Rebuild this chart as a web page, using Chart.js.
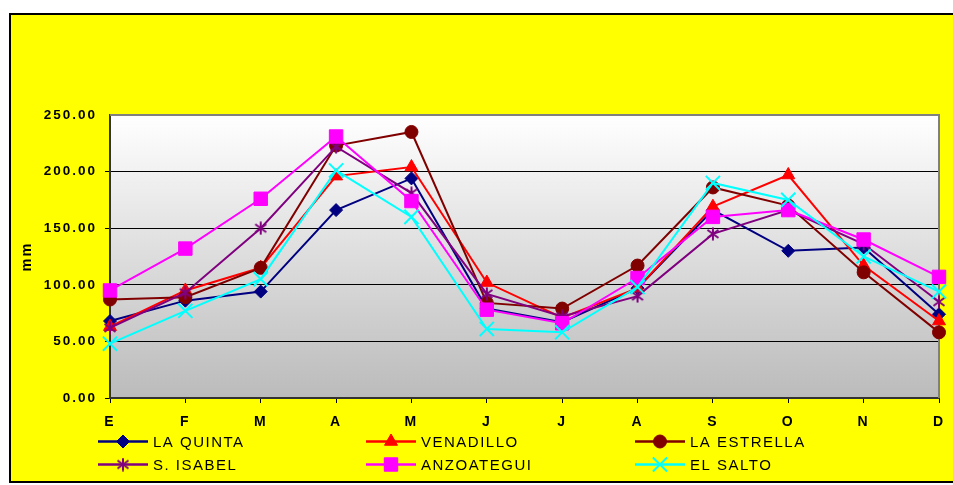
<!DOCTYPE html>
<html>
<head>
<meta charset="utf-8">
<script src="https://cdn.jsdelivr.net/npm/chart.js@4/dist/chart.umd.min.js"></script>
<style>
  html, body { margin: 0; padding: 0; background: #fff; }
  canvas { display: block; }
</style>
</head>
<body>
<canvas id="c" width="953" height="485"></canvas>
<script>
// Monthly rainfall (mm) per station
const months = ['E', 'F', 'M', 'A', 'M', 'J', 'J', 'A', 'S', 'O', 'N', 'D'];
const yTickValues = [0, 50, 100, 150, 200, 250];

const laQuinta   = [68, 86, 94, 166, 194, 79, 67, 97, 166, 130, 133, 74];
const venadillo  = [63, 95, 115, 196, 204, 102, 71, 97, 169, 197, 117, 68];
const laEstrella = [87, 89, 115, 223, 235, 84, 79, 117, 186, 170, 111, 58];
const sIsabel    = [62, 93, 150, 222, 181, 92, 72, 90, 145, 166, 136, 85];
const anzoategui = [95, 132, 176, 231, 174, 78, 66, 106, 160, 166, 140, 107];
const elSalto    = [48, 77, 105, 201, 160, 61, 58, 98, 190, 175, 125, 94];

const FONT = '"Liberation Sans", Arial, sans-serif';

// Six-spoke asterisk marker
function asteriskMarker(color) {
  const c = document.createElement('canvas');
  c.width = 14; c.height = 14;
  const g = c.getContext('2d');
  g.strokeStyle = color;
  g.lineWidth = 2;
  g.beginPath();
  g.moveTo(7, 0.5); g.lineTo(7, 13.5);
  g.moveTo(1.5, 3); g.lineTo(12.5, 11);
  g.moveTo(1.5, 11); g.lineTo(12.5, 3);
  g.stroke();
  return c;
}

function series(label, data, color, style, radius, order, extra) {
  return Object.assign({
    label, data, order,
    borderColor: color,
    backgroundColor: color,
    borderWidth: 2,
    tension: 0,
    clip: false,
    pointStyle: style,
    pointRadius: radius,
    pointHoverRadius: radius,
    pointBackgroundColor: color,
    pointBorderColor: color,
    pointBorderWidth: 1
  }, extra || {});
}

const datasets = [
  series('LA QUINTA', laQuinta, '#000080', 'rectRot', 6.5, 5),
  series('VENADILLO', venadillo, '#FF0000', 'triangle', 7.5, 4),
  series('LA ESTRELLA', laEstrella, '#800000', 'circle', 6.5, 3),
  series('S. ISABEL', sIsabel, '#800080', asteriskMarker('#800080'), 7, 2),
  series('ANZOATEGUI', anzoategui, '#FF00FF', 'rect', 9.5, 1),
  series('EL SALTO', elSalto, '#00FFFF', 'crossRot', 10, 0, { pointBorderWidth: 2 })
];

// Yellow frame, gradient plot area and grey plot border
const framePlugin = {
  id: 'frame',
  beforeDraw(chart) {
    const ctx = chart.ctx;
    const a = chart.chartArea;
    ctx.save();
    ctx.fillStyle = '#ffffff';
    ctx.fillRect(0, 0, chart.width, chart.height);
    ctx.fillStyle = '#FFFF00';
    ctx.fillRect(10, 14, chart.width, 468);
    ctx.strokeStyle = '#000';
    ctx.lineWidth = 2;
    ctx.strokeRect(10, 14, chart.width + 10, 468);
    const grad = ctx.createLinearGradient(0, a.top, 0, a.bottom);
    grad.addColorStop(0, '#ffffff');
    grad.addColorStop(1, '#bbbbbb');
    ctx.fillStyle = grad;
    ctx.fillRect(a.left, a.top, a.right - a.left, a.bottom - a.top);
    ctx.restore();
    ctx.letterSpacing = '2px';
  },
  beforeDatasetsDraw(chart) {
    const ctx = chart.ctx;
    const a = chart.chartArea;
    ctx.save();
    ctx.strokeStyle = '#808080';
    ctx.lineWidth = 2;
    ctx.beginPath();
    ctx.moveTo(a.left, a.top);
    ctx.lineTo(a.right, a.top);
    ctx.lineTo(a.right, a.bottom);
    ctx.stroke();
    ctx.restore();
  }
};

// Series key below the axis: line + marker + name, three columns
const keyPlugin = {
  id: 'seriesKey',
  afterDraw(chart) {
    const ctx = chart.ctx;
    const cols = [98, 366, 635];
    const rows = [441.5, 464.5];
    chart.data.datasets.forEach((ds, i) => {
      const x0 = cols[i % 3];
      const y = rows[Math.floor(i / 3)];
      ctx.save();
      ctx.letterSpacing = '0px';
      ctx.strokeStyle = ds.borderColor;
      ctx.lineWidth = 2.5;
      ctx.beginPath();
      ctx.moveTo(x0, y);
      ctx.lineTo(x0 + 50, y);
      ctx.stroke();
      ctx.fillStyle = ds.pointBackgroundColor;
      ctx.strokeStyle = ds.pointBorderColor;
      ctx.lineWidth = ds.pointBorderWidth;
      Chart.helpers.drawPoint(ctx, {
        pointStyle: ds.pointStyle,
        radius: ds.pointRadius,
        rotation: 0,
        borderWidth: ds.pointBorderWidth
      }, x0 + 25, y);
      ctx.font = '15px ' + FONT;
      ctx.letterSpacing = '1.5px';
      ctx.fillStyle = '#000';
      ctx.textBaseline = 'middle';
      ctx.textAlign = 'left';
      ctx.fillText(ds.label, x0 + 55, y + 1);
      ctx.restore();
    });
  }
};

new Chart(document.getElementById('c'), {
  type: 'line',
  data: { labels: months, datasets },
  options: {
    responsive: false,
    animation: false,
    events: [],
    layout: { padding: { left: 10, top: 115, right: 14, bottom: 0 } },
    plugins: { legend: { display: false }, tooltip: { enabled: false }, title: { display: false } },
    scales: {
      x: {
        offset: false,
        afterFit(s) { s.height = 87; s.paddingLeft = 0; s.paddingRight = 0; },
        grid: { drawOnChartArea: false, drawTicks: true, tickLength: 5, color: '#000', lineWidth: 1 },
        border: { display: true, color: '#333', width: 2 },
        ticks: { color: '#000', padding: 11, maxRotation: 0, autoSkip: false,
                 font: { family: FONT, size: 14, weight: 'bold' } }
      },
      y: {
        min: 0, max: 250,
        afterFit(s) { s.width = 100; s.paddingTop = 0; s.paddingBottom = 0; },
        afterBuildTicks(s) { s.ticks = yTickValues.map(v => ({ value: v })); },
        grid: {
          drawTicks: true, tickLength: 5,
          color: ctx => (ctx.tick && ctx.tick.value === 250) ? 'rgba(0,0,0,0)' : '#000',
          lineWidth: 1
        },
        border: { display: true, color: '#333', width: 2 },
        ticks: {
          color: '#000', padding: 8,
          callback: v => Number(v).toFixed(2),
          font: { family: FONT, size: 13.5, weight: 'bold' }
        },
        title: {
          display: true, text: 'mm', color: '#000',
          padding: { top: 8, bottom: 0 },
          font: { family: FONT, size: 14.5, weight: 'bold' }
        }
      }
    }
  },
  plugins: [framePlugin, keyPlugin]
});
</script>
</body>
</html>
